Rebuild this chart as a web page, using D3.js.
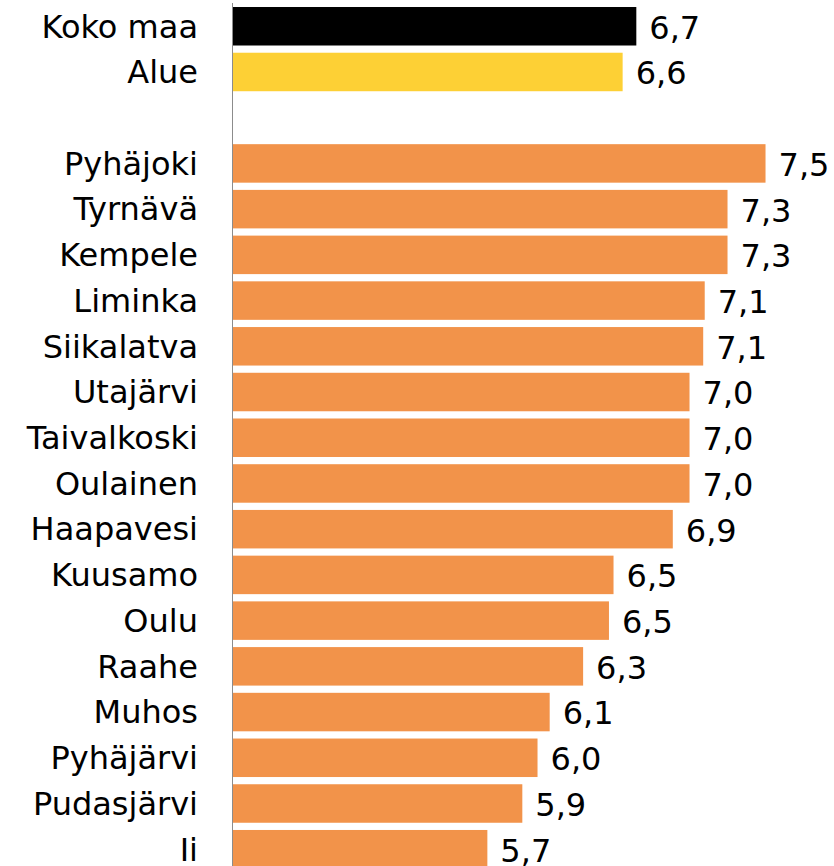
<!DOCTYPE html>
<html>
<head>
<meta charset="utf-8">
<script src="https://cdn.jsdelivr.net/npm/d3@7"></script>
<style>
  html, body { margin: 0; padding: 0; background: #fff; }
  svg { display: block; }
</style>
</head>
<body>
<svg id="chart" width="834" height="866"></svg>
<script>
// Data
const categories = ["Koko maa", "Alue", "", "Pyhäjoki", "Tyrnävä", "Kempele", "Liminka", "Siikalatva",
  "Utajärvi", "Taivalkoski", "Oulainen", "Haapavesi", "Kuusamo", "Oulu", "Raahe", "Muhos",
  "Pyhäjärvi", "Pudasjärvi", "Ii"];
const values = [6.66, 6.57, null, 7.51, 7.26, 7.26, 7.11, 7.10, 7.01, 7.01, 7.01, 6.90,
  6.51, 6.48, 6.31, 6.09, 6.01, 5.91, 5.68];
const groups = ["total", "region", "blank", "muni", "muni", "muni", "muni", "muni", "muni", "muni",
  "muni", "muni", "muni", "muni", "muni", "muni", "muni", "muni", "muni"];
const colors = { total: "#000000", region: "#FDD035", muni: "#F2934A" };

const rows = categories.map((c, i) => ({ key: i + "|" + c, name: c, value: values[i], group: groups[i] }));

const svg = d3.select("#chart");
const font = "'DejaVu Sans', Verdana, sans-serif";

const x = d3.scaleLinear().domain([4, 8]).range([232, 232 + 152 * 4]);
const y = d3.scaleBand().domain(rows.map(r => r.key)).range([3.4, 3.4 + 19 * 45.72])
  .paddingInner(0.158).paddingOuter(0.079);

const fmt = v => d3.format(".1f")(v).replace(".", ",");

const bars = rows.filter(r => r.value != null);

svg.append("g").selectAll("rect").data(bars).join("rect")
  .attr("x", x(4))
  .attr("y", d => y(d.key))
  .attr("width", d => x(d.value) - x(4))
  .attr("height", y.bandwidth())
  .attr("fill", d => colors[d.group]);

// axis line
svg.append("line")
  .attr("x1", x(4) + 0.5).attr("x2", x(4) + 0.5)
  .attr("y1", 3).attr("y2", 866)
  .attr("stroke", "#8c8c8c").attr("stroke-width", 1);

// category labels
svg.append("g").selectAll("text").data(bars).join("text")
  .attr("x", 198)
  .attr("y", d => y(d.key) + y.bandwidth() / 2 + 11.3)
  .attr("text-anchor", "end")
  .attr("font-family", font)
  .attr("font-size", 32)
  .attr("fill", "#000")
  .text(d => d.name);

// value labels
svg.append("g").selectAll("text").data(bars).join("text")
  .attr("x", d => x(d.value) + 13)
  .attr("y", d => y(d.key) + y.bandwidth() / 2 + 12.4)
  .attr("font-family", font)
  .attr("font-size", 32)
  .attr("fill", "#000")
  .text(d => fmt(d.value));
</script>
</body>
</html>
